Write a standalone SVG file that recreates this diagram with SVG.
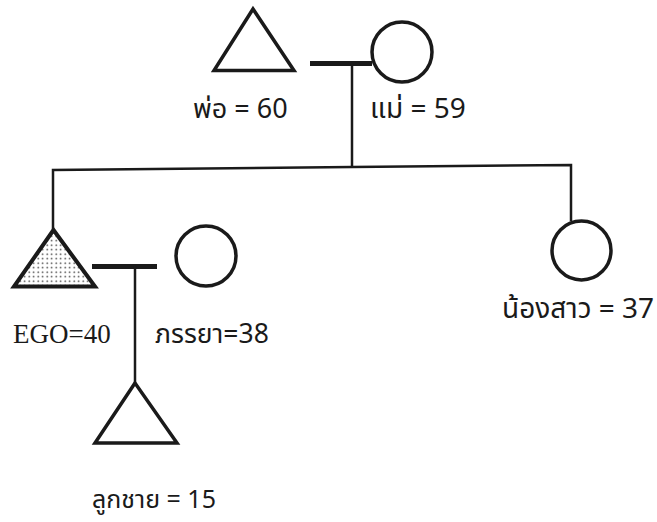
<svg xmlns="http://www.w3.org/2000/svg" width="657" height="522" viewBox="0 0 657 522">
<style>
.sym{fill:none;stroke:#1a1a1a;stroke-width:3.5;stroke-linejoin:miter}
.ln{stroke:#1a1a1a;stroke-width:2.5;fill:none}
.mar{stroke:#1a1a1a;stroke-width:5;fill:none}
.th{font-family:"Noto Sans Thai","Noto Sans","DejaVu Sans",sans-serif;font-size:26px;fill:#1a1a1a}
.sf{font-family:"Liberation Serif",serif;font-size:27px;fill:#1a1a1a}
</style>
<defs>
<pattern id="dots" width="4.5" height="4.5" patternUnits="userSpaceOnUse">
<rect width="4.5" height="4.5" fill="#ffffff"/>
<circle cx="2.2" cy="2.2" r="0.8" fill="#333"/>
</pattern>
</defs>
<rect width="657" height="522" fill="#ffffff"/>
<g id="connectors">
<line class="mar" x1="310" y1="63.5" x2="372" y2="63.5"/>
<line class="ln" x1="352" y1="63" x2="352" y2="167" stroke-width="3"/>
<polyline class="ln" points="53,229 53,170 352,167 571,165 571,221"/>
<line class="mar" x1="92" y1="266.5" x2="157" y2="266.5"/>
<line class="ln" x1="135" y1="266" x2="135" y2="383" stroke-width="3"/>
</g>
<g id="father">
<polygon class="sym" points="253,9 214,70.5 294,70.5"/>
<text class="th" x="193" y="118" style="font-size:27px">พ่อ = 60</text>
</g>
<g id="mother">
<circle class="sym" cx="402" cy="52" r="30"/>
<text class="th" x="370" y="118" style="font-size:28px">แม่ = 59</text>
</g>
<g id="ego">
<polygon class="sym" points="53.5,230 14,286.5 95,286.5" style="fill:url(#dots);stroke-width:4"/>
<text class="sf" x="13" y="343">EGO=40</text>
</g>
<g id="wife">
<circle class="sym" cx="206" cy="256" r="30"/>
<text class="th" x="155" y="343" style="font-size:26.5px">ภรรยา=38</text>
</g>
<g id="son">
<polygon class="sym" points="135,383 95,443 177,443"/>
<text class="th" x="92" y="508" style="font-size:25px">ลูกชาย = 15</text>
</g>
<g id="sister">
<circle class="sym" cx="581.5" cy="250.5" r="29.5"/>
<text class="th" x="502" y="318" style="font-size:28px">น้องสาว = 37</text>
</g>
</svg>
